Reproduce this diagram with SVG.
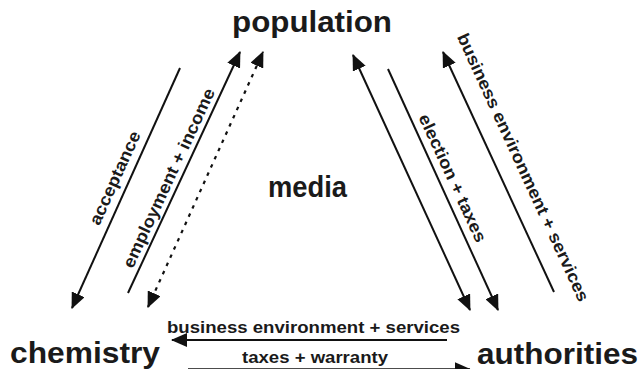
<svg xmlns="http://www.w3.org/2000/svg" width="640" height="369" viewBox="0 0 640 369">
  <style>
    .node { font-family: "Liberation Sans", Arial, sans-serif; font-weight: bold; fill: #1a1a1a; }
    .big { font-size: 29.5px; }
    .lbl { font-family: "Liberation Sans", Arial, sans-serif; font-weight: bold; font-size: 17px; fill: #1a1a1a; }
    .flow { stroke: #111; stroke-width: 2; fill: none; }
    .dots { stroke-dasharray: 3.5 5.5; stroke-width: 2.2; }
  </style>
  <defs>
    <marker id="arrow" viewBox="0 0 16 14" markerWidth="16" markerHeight="14" refX="15" refY="7" orient="auto-start-reverse" markerUnits="userSpaceOnUse">
      <path d="M0,0 L16,7 L0,14 z" fill="#111"/>
    </marker>
  </defs>
  <rect width="640" height="369" fill="#fff"/>

  <!-- actors -->
  <g id="population"><text class="node big" x="232" y="32" textLength="160" lengthAdjust="spacingAndGlyphs">population</text></g>
  <g id="media"><text class="node big" x="268" y="197" textLength="79" lengthAdjust="spacingAndGlyphs">media</text></g>
  <g id="chemistry"><text class="node big" x="10" y="363" textLength="150" lengthAdjust="spacingAndGlyphs">chemistry</text></g>
  <g id="authorities"><text class="node big" x="477" y="364" textLength="161" lengthAdjust="spacingAndGlyphs">authorities</text></g>

  <!-- flows between actors -->
  <g id="connectors">
    <!-- population / chemistry -->
    <line class="flow" x1="180" y1="68" x2="72" y2="308" marker-end="url(#arrow)"/>
    <line class="flow" x1="128" y1="293" x2="240" y2="52" marker-end="url(#arrow)"/>
    <line class="flow dots" x1="148" y1="307" x2="263" y2="52" marker-start="url(#arrow)" marker-end="url(#arrow)"/>
    <!-- population / authorities -->
    <line class="flow" x1="353" y1="55" x2="470" y2="310" marker-start="url(#arrow)" marker-end="url(#arrow)"/>
    <line class="flow" x1="388" y1="69" x2="498" y2="310" marker-end="url(#arrow)"/>
    <line class="flow" x1="554" y1="292" x2="443" y2="52" marker-end="url(#arrow)"/>
    <!-- authorities / chemistry -->
    <line class="flow" x1="447" y1="340" x2="172" y2="340" stroke-width="2.5" marker-end="url(#arrow)"/>
    <line class="flow" x1="188" y1="369.3" x2="470" y2="369.3" marker-end="url(#arrow)"/>

    <!-- flow labels -->
    <text class="lbl" transform="translate(116,178.5) rotate(-65.5)" x="0" y="4.5" text-anchor="middle" textLength="101" lengthAdjust="spacingAndGlyphs">acceptance</text>
    <text class="lbl" transform="translate(170,178.5) rotate(-65)" x="0" y="4.5" text-anchor="middle" textLength="196" lengthAdjust="spacingAndGlyphs">employment + income</text>
    <text class="lbl" transform="translate(451.5,178.5) rotate(65.3)" x="0" y="4.5" text-anchor="middle" textLength="139" lengthAdjust="spacingAndGlyphs">election + taxes</text>
    <text class="lbl" transform="translate(522,168) rotate(65.3)" x="0" y="4.5" text-anchor="middle" textLength="293" lengthAdjust="spacingAndGlyphs">business environment + services</text>
    <text class="lbl" x="167" y="332.5" textLength="293" lengthAdjust="spacingAndGlyphs">business environment + services</text>
    <text class="lbl" x="242" y="363" textLength="146" lengthAdjust="spacingAndGlyphs">taxes + warranty</text>
  </g>
</svg>
